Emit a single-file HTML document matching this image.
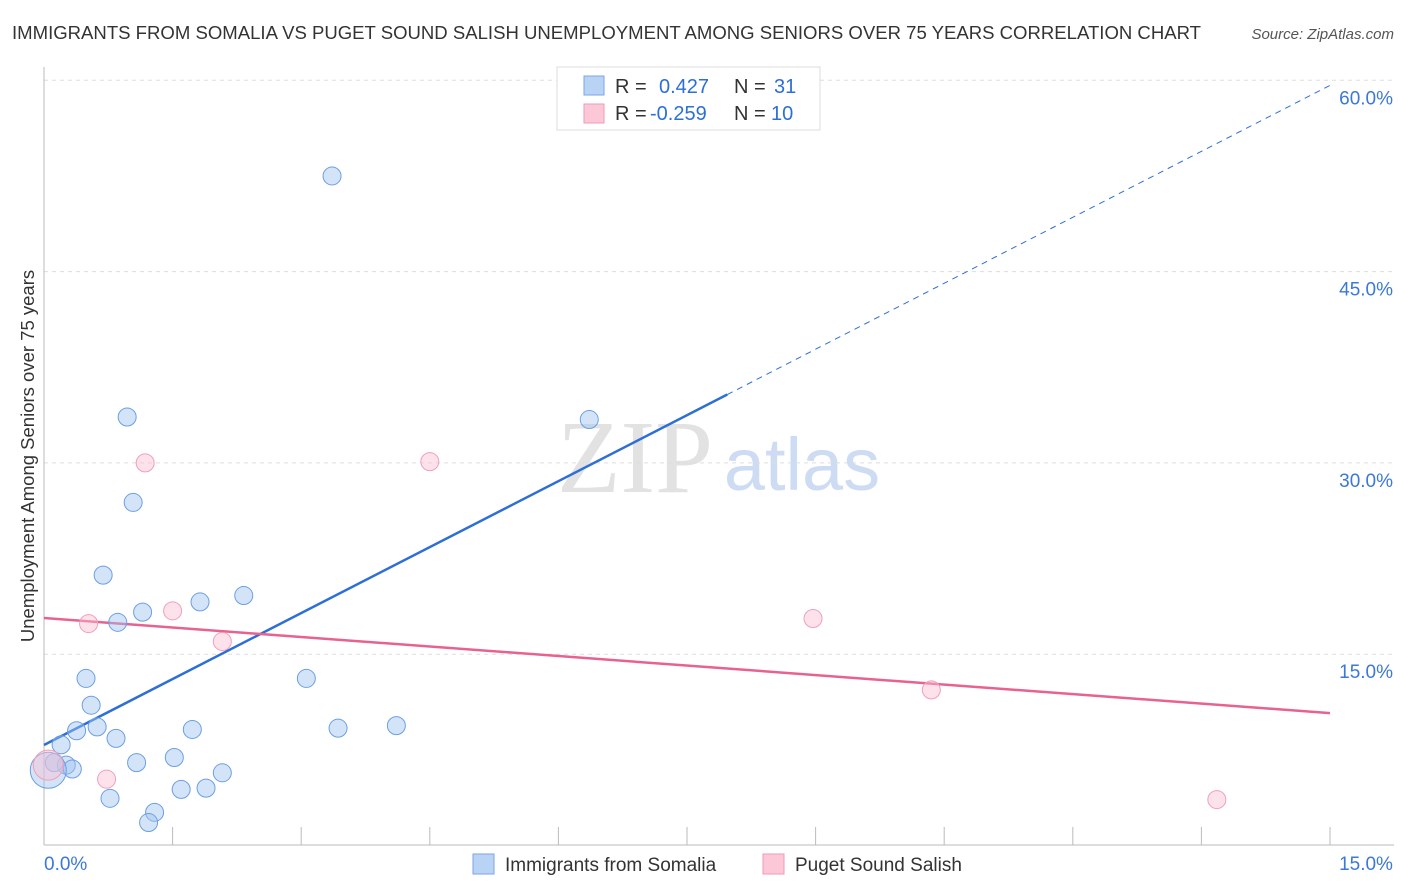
<!DOCTYPE html>
<html><head><meta charset="utf-8"><style>
body{margin:0;background:#fff;font-family:"Liberation Sans",sans-serif;}
svg{display:block}
</style></head><body>
<svg id="chart" width="1406" height="892" xmlns="http://www.w3.org/2000/svg">
<text x="12" y="39" font-size="18" fill="#333" textLength="1189" lengthAdjust="spacingAndGlyphs">IMMIGRANTS FROM SOMALIA VS PUGET SOUND SALISH UNEMPLOYMENT AMONG SENIORS OVER 75 YEARS CORRELATION CHART</text>
<text x="1394" y="39" font-size="15" fill="#555" font-style="italic" text-anchor="end">Source: ZipAtlas.com</text>
<g>
<text x="635" y="492" font-size="104" font-family="Liberation Serif,serif" fill="#e2e2e2" text-anchor="middle">ZIP</text>
<text x="802" y="490" font-size="74" fill="#cddcf3" text-anchor="middle">atlas</text>
</g>
<g id="grid"></g>
<g id="axes"></g>
<g id="lines"></g>
<g id="points"></g>
<text transform="translate(34,456) rotate(-90)" font-size="18.5" fill="#333" text-anchor="middle">Unemployment Among Seniors over 75 years</text>
<g>
<rect x="557" y="67" width="263" height="63" fill="#fff" stroke="#ddd"/>
<rect x="584" y="76" width="20" height="19" fill="#b9d3f5" stroke="#7aa6e6"/>
<rect x="584" y="104" width="20" height="19" fill="#fcc8d8" stroke="#f09ab5"/>
<text x="615" y="93" font-size="20" fill="#333">R = </text><text x="659" y="93" font-size="20" fill="#2d6fd6">0.427</text>
<text x="734" y="93" font-size="20" fill="#333">N = </text><text x="774" y="93" font-size="20" fill="#2d6fd6">31</text>
<text x="615" y="120" font-size="20" fill="#333">R = </text><text x="650" y="120" font-size="20" fill="#2d6fd6">-0.259</text>
<text x="734" y="120" font-size="20" fill="#333">N = </text><text x="771" y="120" font-size="20" fill="#2d6fd6">10</text>
</g>
<g>
<rect x="473" y="854" width="21" height="20" fill="#b9d3f5" stroke="#7aa6e6"/>
<text x="505" y="871" font-size="19" fill="#333">Immigrants from Somalia</text>
<rect x="763" y="854" width="21" height="20" fill="#fcc8d8" stroke="#f09ab5"/>
<text x="795" y="871" font-size="19" fill="#333">Puget Sound Salish</text>
</g>
</svg>
<script>
const xTicks=[0,1.5,3,4.5,6,7.5,9,10.5,12,13.5,15];
const yTicks=[15,30,45,60];
const yTickLabels=["15.0%","30.0%","45.0%","60.0%"];
const xEndLabels=["0.0%","15.0%"];
const somaliaX=[3.36,0.97,6.36,1.04,0.69,1.15,0.86,1.82,2.33,0.49,3.06,0.55,0.62,0.38,1.73,3.43,4.11,0.20,0.84,1.52,1.08,2.08,0.26,0.33,0.12,0.77,1.60,1.89,1.29,1.22,0.05];
const somaliaY=[52.5,33.6,33.4,26.9,21.2,18.3,17.5,19.1,19.6,13.1,13.1,11.0,9.3,9.0,9.1,9.2,9.4,7.9,8.4,6.9,6.5,5.7,6.3,6.0,6.5,3.7,4.4,4.5,2.6,1.8,5.9];
const salishX=[1.18,4.50,0.52,1.50,2.08,8.97,10.35,0.73,13.68,0.05];
const salishY=[30.0,30.1,17.4,18.4,16.0,17.8,12.2,5.2,3.6,6.3];
const somaliaFit=[7.88,59.6];
const salishFit=[17.84,10.38];
const NS="http://www.w3.org/2000/svg";
const X=v=>44+v/15*1286, Y=v=>845.5-v/15*191.3;
function mk(p,t,a){const e=document.createElementNS(NS,t);for(const k in a)e.setAttribute(k,a[k]);p.appendChild(e);return e;}
const grid=document.getElementById('grid'),axes=document.getElementById('axes'),lines=document.getElementById('lines'),pts=document.getElementById('points');
yTicks.forEach((t,i)=>{
 const g=mk(grid,'line',{x1:44,x2:1394,y1:Y(t),y2:Y(t),stroke:'#ddd','stroke-dasharray':'4,4'});
 
 
 const l=mk(axes,'text',{x:1393,y:Y(t)+24,'font-size':19,fill:'#3b78d8','text-anchor':'end'});
 l.textContent=yTickLabels[i];
 
 
});
const ya=mk(axes,'line',{x1:44,x2:44,y1:67,y2:845,stroke:'#bbb'});


const xa=mk(axes,'line',{x1:44,x2:1394,y1:845,y2:845,stroke:'#bbb'});


xTicks.forEach(t=>{
 const k=mk(axes,'line',{x1:X(t),x2:X(t),y1:827,y2:845,stroke:'#bbb'});
 
 
});
[[0,'start',44],[15,'middle',1366]].forEach((d,i)=>{
 const l=mk(axes,'text',{x:d[2],y:870,'font-size':19,fill:'#3b78d8','text-anchor':d[1]});
 l.textContent=xEndLabels[i];
 
 
});
const bs=somaliaFit[0],be=somaliaFit[1],xm=7.97;
const b1=mk(lines,'line',{x1:X(0),y1:Y(bs),x2:X(xm),y2:Y(bs+(be-bs)*xm/15),stroke:'#2d6fd6','stroke-width':2.5});


const b2=mk(lines,'line',{x1:X(xm),y1:Y(bs+(be-bs)*xm/15),x2:X(15),y2:Y(be),stroke:'#2d6fd6','stroke-width':1,'stroke-dasharray':'6,5'});


const p1=mk(lines,'line',{x1:X(0),y1:Y(salishFit[0]),x2:X(15),y2:Y(salishFit[1]),stroke:'#e8628e','stroke-width':2.5});


somaliaX.forEach((x,i)=>{
 const c=mk(pts,'circle',{cx:X(x),cy:Y(somaliaY[i]),r:i==30?18:9,fill:'rgba(160,196,240,0.45)',stroke:'#6b9fe3','stroke-width':1});
 
 
});
salishX.forEach((x,i)=>{
 const c=mk(pts,'circle',{cx:X(x),cy:Y(salishY[i]),r:i==9?15:9,fill:'rgba(250,190,210,0.45)',stroke:'#f0a0b8','stroke-width':1});
 
 
});
</script>
</body></html>
